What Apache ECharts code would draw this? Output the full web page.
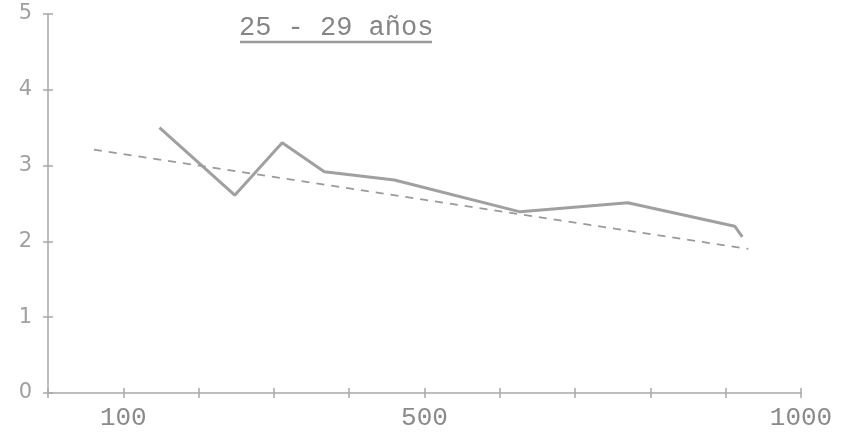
<!DOCTYPE html>
<html><head><meta charset="utf-8">
<script src="https://cdn.jsdelivr.net/npm/echarts@6/dist/echarts.min.js"></script>
<style>html,body{margin:0;padding:0;background:#fff}#c{width:845px;height:436px}</style>
</head><body><div id="c"></div>
<script>
const titleText = "25 - 29 años";
const xTickLabels = [100, 500, 1000];
const solidX = [148, 248, 311, 367, 460, 627, 770, 912, 922];
const solidY = [3.50, 2.61, 3.30, 2.92, 2.81, 2.39, 2.51, 2.20, 2.06];
const trendX = [61, 930];
const trendY = [3.21, 1.90];

const solidData = solidX.map((x, i) => [x, solidY[i]]);
const trendData = trendX.map((x, i) => [x, trendY[i]]);

const axisColor = '#a8a8a8';
const chart = echarts.init(document.getElementById('c'), null, {renderer: 'canvas'});
const baseX = {
  type: 'value', min: 0, max: 1000, interval: 100,
  splitLine: {show: false}
};
const baseY = {
  type: 'value', min: 0, max: 5, interval: 1,
  splitLine: {show: false}
};
chart.setOption({
  animation: false,
  backgroundColor: '#fff',
  grid: {left: 48, right: 44, top: 14, bottom: 43},
  xAxis: [
    Object.assign({}, baseX, {
      position: 'bottom',
      axisLine: {show: true, lineStyle: {color: axisColor, width: 1.5}},
      axisTick: {show: true, length: 5, lineStyle: {color: axisColor, width: 1.5}},
      axisLabel: {
        margin: 12, color: '#8a8a8a', fontFamily: 'Liberation Mono', fontSize: 26,
        formatter: v => xTickLabels.indexOf(v) >= 0 ? String(v) : ''
      }
    }),
    Object.assign({}, baseX, {
      position: 'bottom',
      axisLine: {show: false, onZero: false},
      axisTick: {show: true, inside: true, length: 5, lineStyle: {color: axisColor, width: 1.5}},
      axisLabel: {show: false}
    })
  ],
  yAxis: [
    Object.assign({}, baseY, {
      position: 'left',
      axisLine: {show: true, lineStyle: {color: axisColor, width: 1.5}},
      axisTick: {show: true, length: 5, lineStyle: {color: axisColor, width: 1.5}},
      axisLabel: {margin: 16, color: '#a0a0a0', fontFamily: 'DejaVu Sans', fontSize: 21}
    }),
    Object.assign({}, baseY, {
      position: 'left',
      axisLine: {show: false, onZero: false},
      axisTick: {show: true, inside: true, length: 5, lineStyle: {color: axisColor, width: 1.5}},
      axisLabel: {show: false}
    })
  ],
  graphic: [
    {type: 'text', left: 239, top: 14,
     style: {text: titleText, font: '27px "Liberation Mono"', fill: '#858585'}},
    {type: 'line', shape: {x1: 240, y1: 42, x2: 432, y2: 42},
     style: {stroke: '#9a9a9a', lineWidth: 2.5}}
  ],
  series: [
    {type: 'line', name: 'observado', data: solidData, xAxisIndex: 0, yAxisIndex: 0,
     symbol: 'none', lineStyle: {color: '#a0a0a0', width: 3}},
    {type: 'line', name: 'tendencia', data: trendData, xAxisIndex: 0, yAxisIndex: 0,
     symbol: 'none', lineStyle: {color: '#9a9a9a', width: 1.8, type: [8, 7]}}
  ]
});
</script></body></html>
